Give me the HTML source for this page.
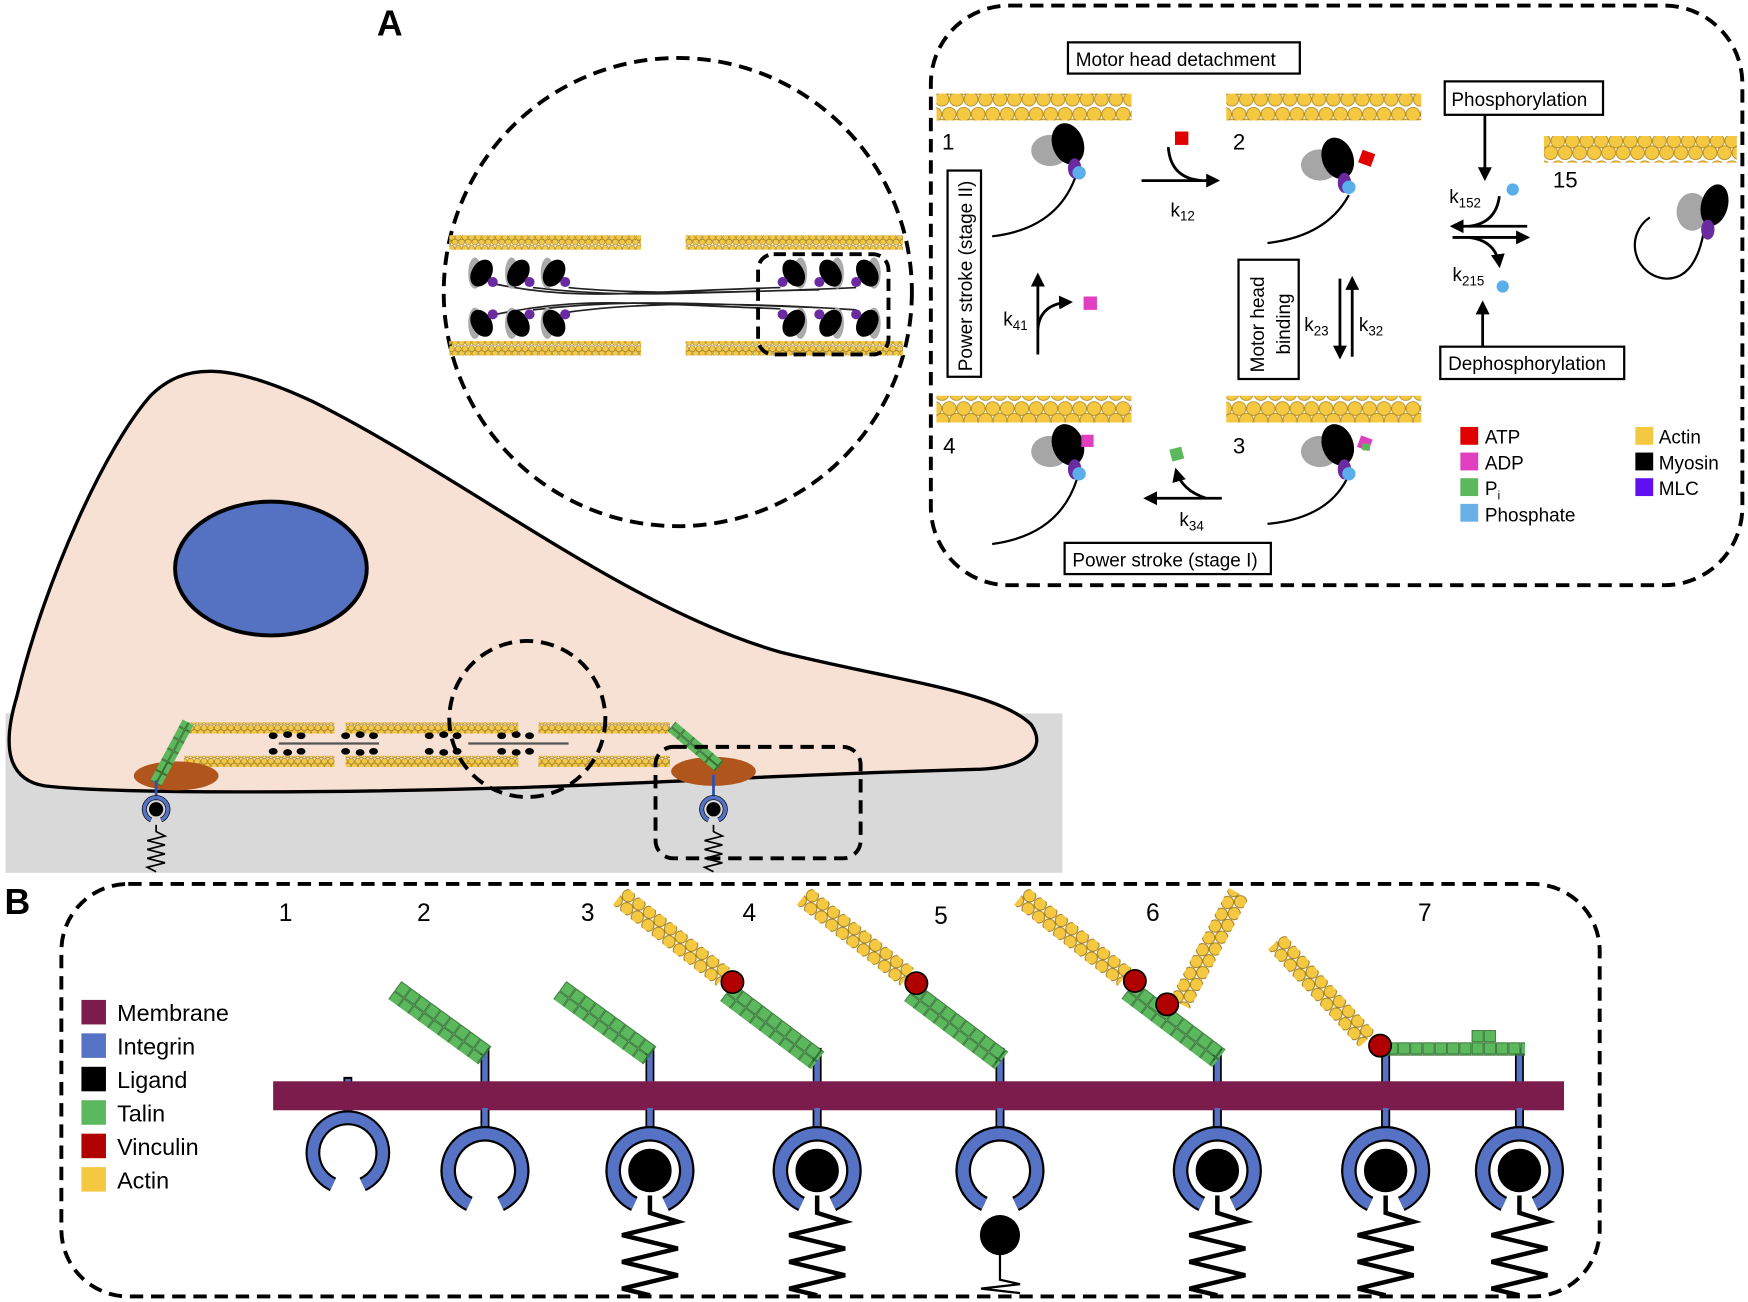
<!DOCTYPE html>
<html><head><meta charset="utf-8"><style>
html,body{margin:0;padding:0;background:#fff}
svg{display:block}
text{font-family:"Liberation Sans",sans-serif}
</style></head><body>
<svg width="1748" height="1302" viewBox="0 0 1568 1168" xmlns="http://www.w3.org/2000/svg">
<defs>
<pattern id="act" width="13" height="24" patternUnits="userSpaceOnUse">
<circle cx="6.5" cy="6.5" r="6.2" fill="#f5c842" stroke="#b08a2a" stroke-width="0.8"/>
<circle cx="0" cy="17" r="6.2" fill="#f5c842" stroke="#b08a2a" stroke-width="0.8"/>
<circle cx="13" cy="17" r="6.2" fill="#f5c842" stroke="#b08a2a" stroke-width="0.8"/>
</pattern>
<pattern id="acts" width="6" height="10" patternUnits="userSpaceOnUse">
<circle cx="3" cy="2.8" r="2.7" fill="#f5c842" stroke="#8a6a1a" stroke-width="0.5"/>
<circle cx="0" cy="7.2" r="2.7" fill="#f5c842" stroke="#8a6a1a" stroke-width="0.5"/>
<circle cx="6" cy="7.2" r="2.7" fill="#f5c842" stroke="#8a6a1a" stroke-width="0.5"/>
</pattern>
<pattern id="actB" width="12" height="20" patternUnits="userSpaceOnUse">
<circle cx="6" cy="5" r="5.5" fill="#f5c842" stroke="#9a7a20" stroke-width="0.8"/>
<circle cx="0" cy="15" r="5.5" fill="#f5c842" stroke="#9a7a20" stroke-width="0.8"/>
<circle cx="12" cy="15" r="5.5" fill="#f5c842" stroke="#9a7a20" stroke-width="0.8"/>
</pattern>
<pattern id="tal" width="11" height="11" patternUnits="userSpaceOnUse">
<rect x="0.5" y="0.5" width="10" height="10" fill="#5cb85c" stroke="#2e6e2e" stroke-width="0.8"/>
</pattern>
<marker id="ah" viewBox="0 0 10 10" refX="8" refY="5" markerWidth="5" markerHeight="5" orient="auto"><path d="M0,0 L10,5 L0,10 z" fill="#000"/></marker>
<path id="spr" d="M0,0 L0,18 L25,26 L-25,38 L25,50 L-25,62 L25,74 L-25,86 L0,92" fill="none" stroke="#000" stroke-width="4"/>
<path id="sprs" d="M0,0 L0,6 L8,10 L-8,14 L8,18 L-8,22 L8,26 L-8,30 L8,34 L-8,38 L0,42" fill="none" stroke="#000" stroke-width="1.5"/>
<g id="integ">
<path d="M-14,30 A33,33 0 1 1 14,30" fill="none" stroke="#000" stroke-width="14"/>
<path d="M-14,30 A33,33 0 1 1 14,30" fill="none" stroke="#5572c4" stroke-width="10"/>
</g>
<g id="myo">
<ellipse cx="-14" cy="0" rx="17" ry="14" fill="#a6a6a6"/>
<ellipse cx="2" cy="-6" rx="14" ry="19" fill="#000" transform="rotate(-20 2 -6)"/>
<ellipse cx="8" cy="16" rx="6" ry="9" fill="#6a2aa0"/>
<circle cx="12" cy="20" r="6" fill="#5aafea"/>
</g>
<g id="mh">
<ellipse cx="-6" cy="0" rx="6" ry="14" fill="#aaa"/>
<ellipse cx="0" cy="0" rx="9" ry="13" fill="#000" transform="rotate(30)"/>
<circle cx="10" cy="8" r="4.5" fill="#6a2aa0"/>
</g>
</defs>

<text x="338" y="32" font-size="32" font-weight="bold">A</text>
<text x="4" y="820" font-size="32" font-weight="bold">B</text>

<rect x="5" y="640" width="948" height="143" fill="#d9d9d9"/>
<path d="M40,705 C10,700 0,675 15,625 C40,520 95,400 135,355 C165,325 205,325 280,360 C420,430 560,545 700,585 C800,610 895,620 925,650 C940,672 920,688 880,690 C700,695 600,702 480,706 C300,712 100,712 40,705 Z" fill="#f6e1d4" stroke="#000" stroke-width="3"/>
<ellipse cx="243" cy="510" rx="86" ry="60" fill="#5571c2" stroke="#000" stroke-width="3.5"/>
<g>
<rect x="165" y="648" width="135" height="10" fill="url(#acts)"/>
<rect x="310" y="648" width="155" height="10" fill="url(#acts)"/>
<rect x="483" y="648" width="118" height="10" fill="url(#acts)"/>
<rect x="165" y="678" width="135" height="10" fill="url(#acts)"/>
<rect x="310" y="678" width="155" height="10" fill="url(#acts)"/>
<rect x="483" y="678" width="118" height="10" fill="url(#acts)"/>
<path d="M250,667 L340,667 M420,667 L510,667" stroke="#555" stroke-width="2"/>
<g fill="#000"><ellipse cx="245" cy="660" rx="4" ry="3"/><ellipse cx="258" cy="659" rx="4" ry="3"/><ellipse cx="270" cy="660" rx="4" ry="3"/><ellipse cx="245" cy="674" rx="4" ry="3"/><ellipse cx="258" cy="675" rx="4" ry="3"/><ellipse cx="270" cy="674" rx="4" ry="3"/>
<ellipse cx="310" cy="660" rx="4" ry="3"/><ellipse cx="323" cy="659" rx="4" ry="3"/><ellipse cx="335" cy="660" rx="4" ry="3"/><ellipse cx="310" cy="674" rx="4" ry="3"/><ellipse cx="323" cy="675" rx="4" ry="3"/><ellipse cx="335" cy="674" rx="4" ry="3"/>
<ellipse cx="385" cy="660" rx="4" ry="3"/><ellipse cx="398" cy="659" rx="4" ry="3"/><ellipse cx="410" cy="660" rx="4" ry="3"/><ellipse cx="385" cy="674" rx="4" ry="3"/><ellipse cx="398" cy="675" rx="4" ry="3"/><ellipse cx="410" cy="674" rx="4" ry="3"/>
<ellipse cx="450" cy="660" rx="4" ry="3"/><ellipse cx="463" cy="659" rx="4" ry="3"/><ellipse cx="475" cy="660" rx="4" ry="3"/><ellipse cx="450" cy="674" rx="4" ry="3"/><ellipse cx="463" cy="675" rx="4" ry="3"/><ellipse cx="475" cy="674" rx="4" ry="3"/></g>
</g>
<ellipse cx="158" cy="696" rx="38" ry="13" fill="#b0561c"/>
<ellipse cx="640" cy="692" rx="38" ry="13" fill="#b0561c"/>
<g transform="translate(140,703) rotate(-62)"><rect x="0" y="-6" width="62" height="11" fill="url(#tal)"/></g>
<g transform="translate(602,652) rotate(40)"><rect x="0" y="-6" width="56" height="11" fill="url(#tal)"/></g>
<line x1="140" y1="700" x2="140" y2="718" stroke="#3050b0" stroke-width="2.5"/>
<line x1="640" y1="695" x2="640" y2="716" stroke="#3050b0" stroke-width="2.5"/>
<g transform="translate(140,726) scale(0.32)"><use href="#integ"/><circle r="20" fill="#000"/></g>
<g transform="translate(640,726) scale(0.32)"><use href="#integ"/><circle r="20" fill="#000"/></g>
<use href="#sprs" transform="translate(140,740)"/>
<use href="#sprs" transform="translate(640,740)"/>
<circle cx="473" cy="645" r="70" fill="none" stroke="#000" stroke-width="3.5" stroke-dasharray="12,7"/>
<rect x="588" y="670" width="184" height="100" rx="16" fill="none" stroke="#000" stroke-width="3.5" stroke-dasharray="12,7"/>

<circle cx="608" cy="262" r="210" fill="#fff" stroke="#000" stroke-width="3.5" stroke-dasharray="12,7"/>
<rect x="403" y="211" width="172" height="13" fill="url(#acts)"/>
<rect x="615" y="211" width="195" height="13" fill="url(#acts)"/>
<rect x="403" y="306" width="172" height="13" fill="url(#acts)"/>
<rect x="615" y="306" width="195" height="13" fill="url(#acts)"/>
<g fill="none" stroke="#222" stroke-width="1.5">
<path d="M445,255 C520,270 560,262 700,258 M478,258 C560,268 620,262 735,260 M510,258 C580,265 680,262 768,258"/>
<path d="M445,282 C520,266 560,272 700,277 M478,278 C560,268 620,272 735,276 M510,280 C580,270 680,272 768,278"/>
</g>
<use href="#mh" transform="translate(432,245)"/><use href="#mh" transform="translate(465,245)"/><use href="#mh" transform="translate(497,245)"/>
<use href="#mh" transform="translate(432,290) scale(1,-1)"/><use href="#mh" transform="translate(465,290) scale(1,-1)"/><use href="#mh" transform="translate(497,290) scale(1,-1)"/>
<use href="#mh" transform="translate(712,245) scale(-1,1)"/><use href="#mh" transform="translate(745,245) scale(-1,1)"/><use href="#mh" transform="translate(778,245) scale(-1,1)"/>
<use href="#mh" transform="translate(712,290) scale(-1,-1)"/><use href="#mh" transform="translate(745,290) scale(-1,-1)"/><use href="#mh" transform="translate(778,290) scale(-1,-1)"/>
<rect x="680" y="228" width="117" height="90" rx="14" fill="none" stroke="#000" stroke-width="3.5" stroke-dasharray="11,6"/>

<rect x="835" y="5" width="728" height="520" rx="70" fill="none" stroke="#000" stroke-width="3.5" stroke-dasharray="12,7"/>
<rect x="840" y="84" width="175" height="24" fill="url(#act)"/>
<rect x="1100" y="84" width="175" height="24" fill="url(#act)"/>
<rect x="840" y="355" width="175" height="24" fill="url(#act)"/>
<rect x="1100" y="355" width="175" height="24" fill="url(#act)"/>
<rect x="1385" y="122" width="173" height="24" fill="url(#act)"/>
<g fill="none" stroke="#000" stroke-width="2">
<path d="M966,155 Q950,205 890,212"/>
<path d="M1210,175 Q1190,212 1137,218"/>
<path d="M966,430 Q950,480 890,488"/>
<path d="M1208,430 Q1190,465 1137,470"/>
<path d="M1528,210 Q1520,250 1495,250 A30,30 0 0 1 1480,195"/>
</g>
<use href="#myo" transform="translate(956,135)"/>
<use href="#myo" transform="translate(1198,148)"/>
<rect x="1220" y="136" width="12" height="12" fill="#e00000" transform="rotate(20 1226 142)"/>
<use href="#myo" transform="translate(956,405)"/>
<rect x="970" y="390" width="11" height="11" fill="#e040c0"/>
<use href="#myo" transform="translate(1198,405)"/>
<rect x="1219" y="392" width="11" height="11" fill="#e040c0" transform="rotate(20 1224 397)"/>
<rect x="1222" y="398" width="7" height="6" fill="#5cb85c"/>
<g transform="translate(1530,190)">
<ellipse cx="-12" cy="0" rx="14" ry="17" fill="#a6a6a6"/>
<ellipse cx="8" cy="-6" rx="12" ry="19" fill="#000" transform="rotate(15 8 -6)"/>
<ellipse cx="2" cy="16" rx="6" ry="9" fill="#6a2aa0"/>
</g>
<g font-size="20"><text x="845" y="134">1</text><text x="1106" y="134">2</text><text x="846" y="407">4</text><text x="1106" y="407">3</text><text x="1393" y="168">15</text></g>
<g fill="#fff" stroke="#000" stroke-width="2">
<rect x="958" y="38" width="208" height="28"/>
<rect x="1296" y="73" width="142" height="30"/>
<rect x="1292" y="311" width="165" height="29"/>
<rect x="955" y="487" width="185" height="28"/>
<rect x="850" y="153" width="30" height="185"/>
<rect x="1111" y="233" width="54" height="107"/>
</g>
<g font-size="17">
<text x="965" y="59">Motor head detachment</text>
<text x="1302" y="95">Phosphorylation</text>
<text x="1299" y="332">Dephosphorylation</text>
<text x="962" y="508">Power stroke (stage I)</text>
<text transform="translate(872,333) rotate(-90)">Power stroke (stage II)</text>
<text transform="translate(1134,334) rotate(-90)">Motor head</text>
<text transform="translate(1157,318) rotate(-90)">binding</text>
</g>
<g fill="none" stroke="#000" stroke-width="2.5">
<line x1="1024" y1="162" x2="1092" y2="162" marker-end="url(#ah)"/>
<path d="M1048,132 Q1050,160 1078,162"/>
<line x1="931" y1="318" x2="931" y2="247" marker-end="url(#ah)"/>
<path d="M931,295 Q933,272 960,271" marker-end="url(#ah)"/>
<line x1="1202" y1="250" x2="1202" y2="320" marker-end="url(#ah)"/>
<line x1="1213" y1="320" x2="1213" y2="250" marker-end="url(#ah)"/>
<line x1="1096" y1="447" x2="1028" y2="447" marker-end="url(#ah)"/>
<path d="M1082,447 Q1060,440 1055,422" marker-end="url(#ah)"/>
<line x1="1332" y1="103" x2="1332" y2="160" marker-end="url(#ah)"/>
<path d="M1345,176 Q1342,200 1318,203"/>
<line x1="1370" y1="203" x2="1303" y2="203" marker-end="url(#ah)"/>
<line x1="1303" y1="213" x2="1370" y2="213" marker-end="url(#ah)"/>
<path d="M1318,213 Q1342,216 1345,238" marker-end="url(#ah)"/>
<line x1="1330" y1="311" x2="1330" y2="272" marker-end="url(#ah)"/>
</g>
<rect x="1054" y="118" width="12" height="12" fill="#e00000"/>
<rect x="972" y="266" width="12" height="12" fill="#e040c0"/>
<rect x="1050" y="402" width="11" height="11" fill="#5cb85c" transform="rotate(-15 1055 407)"/>
<circle cx="1357" cy="170" r="5.5" fill="#5aafea"/>
<circle cx="1348" cy="257" r="5.5" fill="#5aafea"/>
<g font-size="17">
<text x="1050" y="194">k<tspan font-size="12" dy="4">12</tspan></text>
<text x="900" y="292">k<tspan font-size="12" dy="4">41</tspan></text>
<text x="1170" y="297">k<tspan font-size="12" dy="4">23</tspan></text>
<text x="1219" y="297">k<tspan font-size="12" dy="4">32</tspan></text>
<text x="1058" y="472">k<tspan font-size="12" dy="4">34</tspan></text>
<text x="1300" y="182">k<tspan font-size="12" dy="4">152</tspan></text>
<text x="1303" y="252">k<tspan font-size="12" dy="4">215</tspan></text>
</g>
<rect x="1310" y="383" width="16" height="16" fill="#e00000"/>
<rect x="1310" y="406" width="16" height="16" fill="#e040c0"/>
<rect x="1310" y="429" width="16" height="16" fill="#5cb85c"/>
<rect x="1310" y="452" width="16" height="16" fill="#6ab0e8"/>
<rect x="1467" y="383" width="16" height="16" fill="#f5c842"/>
<rect x="1467" y="406" width="16" height="16" fill="#000"/>
<rect x="1467" y="429" width="16" height="16" fill="#6010f0"/>
<g font-size="17">
<text x="1332" y="398">ATP</text><text x="1332" y="421">ADP</text><text x="1332" y="444">P<tspan font-size="11" dy="4">i</tspan></text><text x="1332" y="468">Phosphate</text>
<text x="1488" y="398">Actin</text><text x="1488" y="421">Myosin</text><text x="1488" y="444">MLC</text>
</g>

<rect x="55" y="793" width="1380" height="370" rx="60" fill="none" stroke="#000" stroke-width="3.5" stroke-dasharray="12,7"/>
<g font-size="21">
<rect x="73" y="897" width="22" height="22" fill="#7b1c4c"/><text x="105" y="916">Membrane</text>
<rect x="73" y="927" width="22" height="22" fill="#5572c4"/><text x="105" y="946">Integrin</text>
<rect x="73" y="957" width="22" height="22" fill="#000"/><text x="105" y="976">Ligand</text>
<rect x="73" y="987" width="22" height="22" fill="#5cb85c"/><text x="105" y="1006">Talin</text>
<rect x="73" y="1017" width="22" height="22" fill="#b00000"/><text x="105" y="1036">Vinculin</text>
<rect x="73" y="1047" width="22" height="22" fill="#f5c842"/><text x="105" y="1066">Actin</text>
</g>
<g font-size="22"><text x="250" y="826">1</text><text x="374" y="826">2</text><text x="521" y="826">3</text><text x="666" y="826">4</text><text x="838" y="829">5</text><text x="1028" y="826">6</text><text x="1272" y="826">7</text></g>
<g>
<use href="#spr" transform="translate(583,1070)"/><use href="#spr" transform="translate(733,1070)"/>
<use href="#spr" transform="translate(1092,1070)"/><use href="#spr" transform="translate(1243,1070)"/><use href="#spr" transform="translate(1363,1070)"/>
<path d="M897,1120 L897,1148 L915,1152 L880,1156 L915,1160" fill="none" stroke="#000" stroke-width="2"/>
<circle cx="897" cy="1108" r="18" fill="#000"/>
</g>
<g stroke="#000" stroke-width="8"><line x1="312" y1="966" x2="312" y2="1003"/><line x1="435" y1="940" x2="435" y2="1018"/><line x1="583" y1="940" x2="583" y2="1018"/><line x1="733" y1="940" x2="733" y2="1018"/><line x1="897" y1="940" x2="897" y2="1018"/><line x1="1092" y1="940" x2="1092" y2="1018"/><line x1="1243" y1="940" x2="1243" y2="1018"/><line x1="1363" y1="940" x2="1363" y2="1018"/></g>
<g stroke="#5572c4" stroke-width="5"><line x1="312" y1="968" x2="312" y2="1003"/><line x1="435" y1="940" x2="435" y2="1018"/><line x1="583" y1="940" x2="583" y2="1018"/><line x1="733" y1="940" x2="733" y2="1018"/><line x1="897" y1="940" x2="897" y2="1018"/><line x1="1092" y1="940" x2="1092" y2="1018"/><line x1="1243" y1="940" x2="1243" y2="1018"/><line x1="1363" y1="940" x2="1363" y2="1018"/></g>
<rect x="245" y="970" width="1158" height="26" fill="#7b1c4c"/>
<g stroke="#000" stroke-width="8"><line x1="435" y1="996" x2="435" y2="1018"/><line x1="583" y1="996" x2="583" y2="1018"/><line x1="733" y1="996" x2="733" y2="1018"/><line x1="897" y1="996" x2="897" y2="1018"/><line x1="1092" y1="996" x2="1092" y2="1018"/><line x1="1243" y1="996" x2="1243" y2="1018"/><line x1="1363" y1="996" x2="1363" y2="1018"/></g>
<g stroke="#5572c4" stroke-width="5"><line x1="435" y1="994" x2="435" y2="1020"/><line x1="583" y1="994" x2="583" y2="1020"/><line x1="733" y1="994" x2="733" y2="1020"/><line x1="897" y1="994" x2="897" y2="1020"/><line x1="1092" y1="994" x2="1092" y2="1020"/><line x1="1243" y1="994" x2="1243" y2="1020"/><line x1="1363" y1="994" x2="1363" y2="1020"/></g>
<g transform="translate(312,1034) scale(0.95)"><use href="#integ"/></g>
<use href="#integ" transform="translate(435,1050)"/>
<g transform="translate(583,1050)"><use href="#integ"/><circle r="21" fill="#000" stroke="#fff" stroke-width="3"/></g>
<g transform="translate(733,1050)"><use href="#integ"/><circle r="21" fill="#000" stroke="#fff" stroke-width="3"/></g>
<use href="#integ" transform="translate(897,1050)"/>
<g transform="translate(1092,1050)"><use href="#integ"/><circle r="21" fill="#000" stroke="#fff" stroke-width="3"/></g>
<g transform="translate(1243,1050)"><use href="#integ"/><circle r="21" fill="#000" stroke="#fff" stroke-width="3"/></g>
<g transform="translate(1363,1050)"><use href="#integ"/><circle r="21" fill="#000" stroke="#fff" stroke-width="3"/></g>
<g transform="translate(360,880) rotate(36)"><rect x="0" y="0" width="100" height="20" fill="url(#tal)"/></g>
<g transform="translate(508,880) rotate(36)"><rect x="0" y="0" width="100" height="20" fill="url(#tal)"/></g>
<g transform="translate(658,882) rotate(37)"><rect x="0" y="0" width="102" height="20" fill="url(#tal)"/></g>
<g transform="translate(823,882) rotate(37)"><rect x="0" y="0" width="102" height="20" fill="url(#tal)"/></g>
<g transform="translate(1018,880) rotate(37)"><rect x="0" y="0" width="102" height="20" fill="url(#tal)"/></g>
<rect x="1240" y="935" width="128" height="12" fill="url(#tal)"/>
<rect x="1320" y="924" width="22" height="11" fill="url(#tal)"/>
<g transform="translate(562,796) rotate(38)"><rect x="0" y="0" width="118" height="20" fill="url(#actB)"/></g>
<g transform="translate(727,796) rotate(38)"><rect x="0" y="0" width="118" height="20" fill="url(#actB)"/></g>
<g transform="translate(922,796) rotate(38)"><rect x="0" y="0" width="118" height="20" fill="url(#actB)"/></g>
<g transform="translate(1120,806) rotate(118)"><rect x="0" y="0" width="112" height="20" fill="url(#actB)"/></g>
<g transform="translate(1152,838) rotate(47)"><rect x="0" y="0" width="120" height="20" fill="url(#actB)"/></g>
<g fill="#b00000" stroke="#000" stroke-width="1.5">
<circle cx="657" cy="881" r="10"/><circle cx="822" cy="882" r="10"/><circle cx="1018" cy="880" r="10"/><circle cx="1047" cy="901" r="10"/><circle cx="1238" cy="938" r="10"/>
</g>
</svg>
</body></html>
